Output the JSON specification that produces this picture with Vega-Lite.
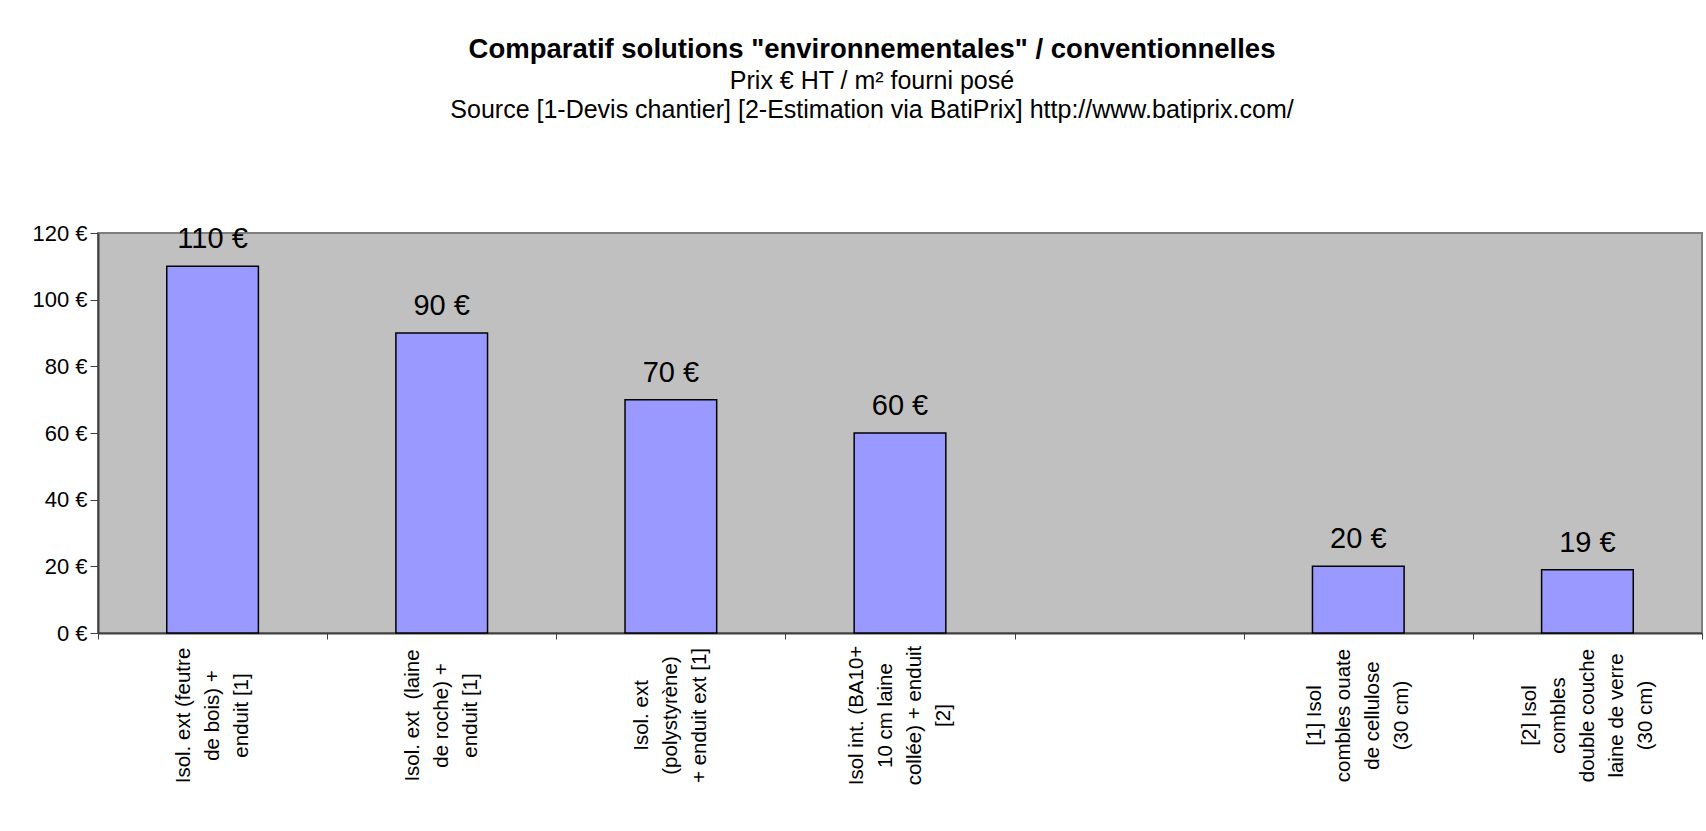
{
  "$schema": "https://vega.github.io/schema/vega-lite/v6.json",
  "width": 1604,
  "height": 400,
  "autosize": {"type": "none"},
  "padding": {"left": 98, "top": 233, "right": 4, "bottom": 198},
  "background": "white",
  "config": {
    "font": "Liberation Sans",
    "locale": {
      "number": {"decimal": ",", "thousands": " ", "grouping": [3], "currency": ["", " €"]}
    },
    "view": {"fill": "#C0C0C0", "stroke": "#808080", "strokeWidth": 2}
  },
  "title": {
    "text": "Comparatif solutions \"environnementales\" / conventionnelles",
    "subtitle": [
      "Prix € HT / m² fourni posé",
      "Source [1-Devis chantier] [2-Estimation via BatiPrix] http://www.batiprix.com/"
    ],
    "anchor": "middle",
    "dx": -28,
    "offset": 99,
    "font": "Liberation Sans",
    "fontSize": 27.5,
    "fontWeight": "bold",
    "color": "black",
    "subtitleFont": "Liberation Sans",
    "subtitleFontSize": 25,
    "subtitleColor": "black",
    "subtitleLineHeight": 29,
    "subtitlePadding": 6
  },
  "data": {
    "values": [
      {"solution": "Isol. ext (feutre|de bois) +|enduit [1]", "price": 110},
      {"solution": "Isol. ext \u00a0(laine|de roche) +|enduit [1]", "price": 90},
      {"solution": "Isol. ext|(polystyrène)|+ enduit ext [1]", "price": 70},
      {"solution": "Isol int. (BA10+|10 cm laine|collée) + enduit|[2]", "price": 60},
      {"solution": " ", "price": null},
      {"solution": "[1] Isol|combles ouate|de cellulose|(30 cm)", "price": 20},
      {"solution": "[2] Isol|combles|double couche|laine de verre|(30 cm)", "price": 19}
    ]
  },
  "encoding": {
    "x": {
      "field": "solution",
      "type": "nominal",
      "sort": null,
      "scale": {
        "domain": [
          "Isol. ext (feutre|de bois) +|enduit [1]",
          "Isol. ext \u00a0(laine|de roche) +|enduit [1]",
          "Isol. ext|(polystyrène)|+ enduit ext [1]",
          "Isol int. (BA10+|10 cm laine|collée) + enduit|[2]",
          " ",
          "[1] Isol|combles ouate|de cellulose|(30 cm)",
          "[2] Isol|combles|double couche|laine de verre|(30 cm)"
        ],
        "paddingInner": 0,
        "paddingOuter": 0
      },
      "axis": {
        "title": null,
        "labelAngle": -90,
        "labelAlign": "center",
        "labelBaseline": "middle",
        "labelExpr": "split(datum.label, '|')",
        "labelFont": "Liberation Sans",
        "labelFontSize": 20.5,
        "labelLineHeight": 29,
        "labelPadding": 76,
        "labelOffset": {
          "condition": {
            "test": "isString(datum.value)",
            "expr": "-(length(split(datum.value, '|')) - 1) * 14.5"
          },
          "value": 0
        },
        "labelColor": "black",
        "labelLimit": 0,
        "labelOverlap": false,
        "labelBound": false,
        "tickBand": "extent",
        "tickSize": 6,
        "tickColor": "#404040",
        "domainColor": "#404040",
        "domainWidth": 2
      }
    },
    "y": {
      "field": "price",
      "type": "quantitative",
      "scale": {"domain": [0, 120], "nice": false},
      "axis": {
        "title": null,
        "values": [0, 20, 40, 60, 80, 100, 120],
        "format": "$.0f",
        "grid": false,
        "labelFont": "Liberation Sans",
        "labelFontSize": 22,
        "labelColor": "black",
        "labelPadding": 3,
        "tickSize": 8,
        "tickColor": "#404040",
        "domainColor": "#404040",
        "domainWidth": 2
      }
    }
  },
  "layer": [
    {
      "mark": {
        "type": "bar",
        "width": {"band": 0.4},
        "fill": "#9999FF",
        "stroke": "black",
        "strokeWidth": 1.5
      }
    },
    {
      "mark": {
        "type": "text",
        "align": "center",
        "baseline": "alphabetic",
        "dy": -18,
        "fontSize": 29,
        "color": "black"
      },
      "encoding": {
        "text": {"field": "price", "type": "quantitative", "format": "$.0f"}
      }
    }
  ]
}
